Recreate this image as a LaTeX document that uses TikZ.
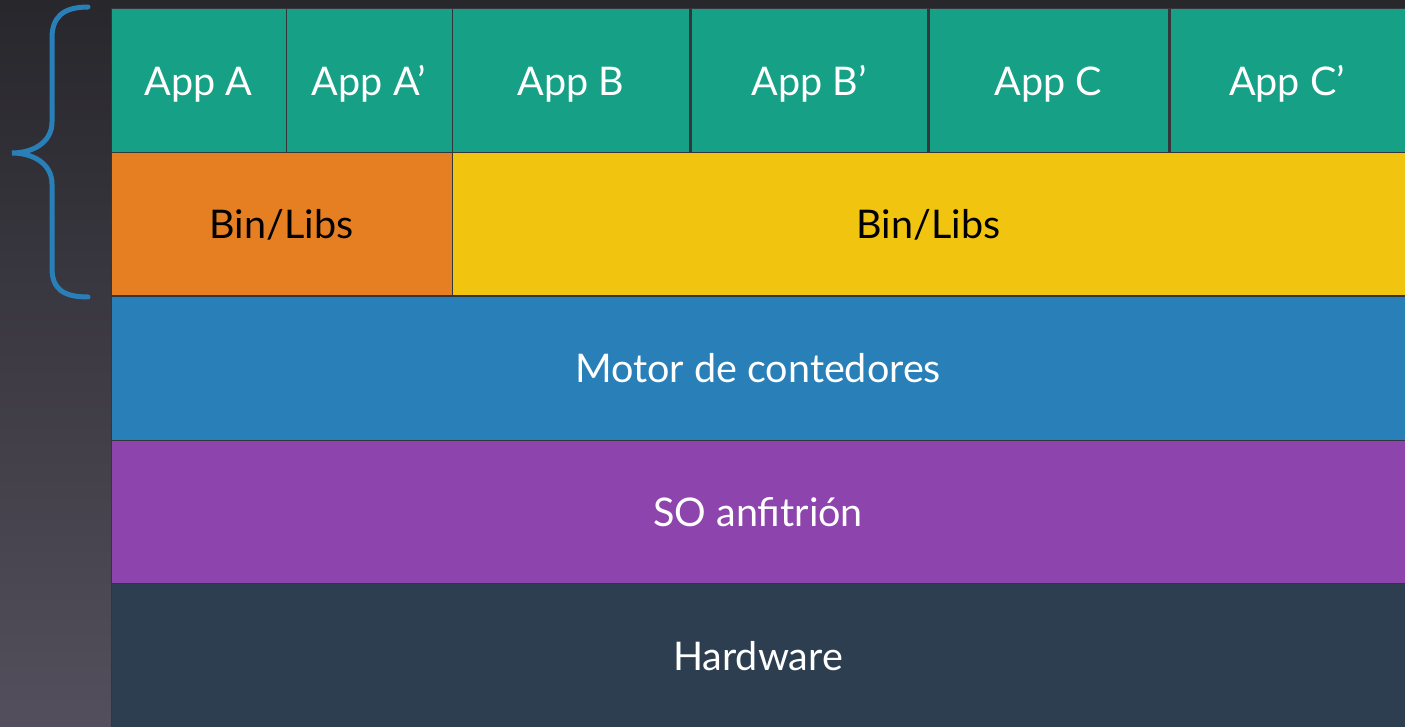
\documentclass[tikz,border=0pt]{standalone}
\usepackage{fontspec}
\setmainfont{Lato}
\definecolor{appgreen}{HTML}{16A085}
\definecolor{liborange}{HTML}{E67E22}
\definecolor{libyellow}{HTML}{F1C40F}
\definecolor{motorblue}{HTML}{2980B9}
\definecolor{sopurple}{HTML}{8E44AD}
\definecolor{hwdark}{HTML}{2C3E50}
\definecolor{bgtop}{HTML}{28272C}
\definecolor{bgbottom}{HTML}{534F5C}
\definecolor{edgegray}{HTML}{33363B}
\begin{document}
\begin{tikzpicture}[x=1pt,y=-1pt,
    layer/.style={rectangle,draw=edgegray,line width=1pt,anchor=north west,inner sep=0pt,outer sep=0pt,
        text height=35pt,text depth=6pt,font=\fontsize{39.5}{46}\selectfont},
    app/.style={layer,fill=appgreen,text=white,minimum height=144pt},
    lib/.style={layer,text=black,minimum height=143pt},
    band/.style={layer,text=white,minimum width=1294pt,minimum height=144pt},
    divider/.style={draw=edgegray,line width=3pt}]
    \useasboundingbox (0,0) rectangle (1405,727);
    \shade[top color=bgtop,bottom color=bgbottom] (0,0) rectangle (1405,727);

    \node[app,minimum width=175pt] at (111,9) (appa) {App A};
    \node[app,minimum width=166pt] at (286,9) (appa2) {App A’};
    \node[app,minimum width=238pt] at (452,9) (appb) {App B};
    \node[app,minimum width=238pt] at (690,9) (appb2) {App B’};
    \node[app,minimum width=241pt] at (928,9) (appc) {App C};
    \node[app,minimum width=236pt] at (1169,9) (appc2) {App C’};

    \node[lib,fill=liborange,minimum width=341pt] at (111,153) (liba) {Bin/Libs};
    \node[lib,fill=libyellow,minimum width=953pt] at (452,153) (libb) {Bin/Libs};

    \node[band,fill=motorblue] at (111,296) (motor) {Motor de contedores};
    \node[band,fill=sopurple] at (111,440) (so) {SO anfitrión};
    \node[band,fill=hwdark,minimum height=145pt] at (111,583) (hw) {Hardware};

    \draw[divider] (appb2.north west) -- (appb2.south west);
    \draw[divider] (appc.north west) -- (appc.south west);
    \draw[divider] (appc2.north west) -- (appc2.south west);

    % brace over apps and libs
    \coordinate (bracetop) at (88,7);
    \coordinate (bracetip) at (12,153);
    \coordinate (bracebot) at (88,297);
    \draw[motorblue,line width=5pt,line cap=round]
        (bracetop) .. controls (62,7) and (52,18) .. (52,38) -- (52,122)
        .. controls (52,143) and (32,153) .. (bracetip)
        .. controls (32,153) and (52,163) .. (52,184) -- (52,268)
        .. controls (52,288) and (62,297) .. (bracebot);
\end{tikzpicture}
\end{document}
